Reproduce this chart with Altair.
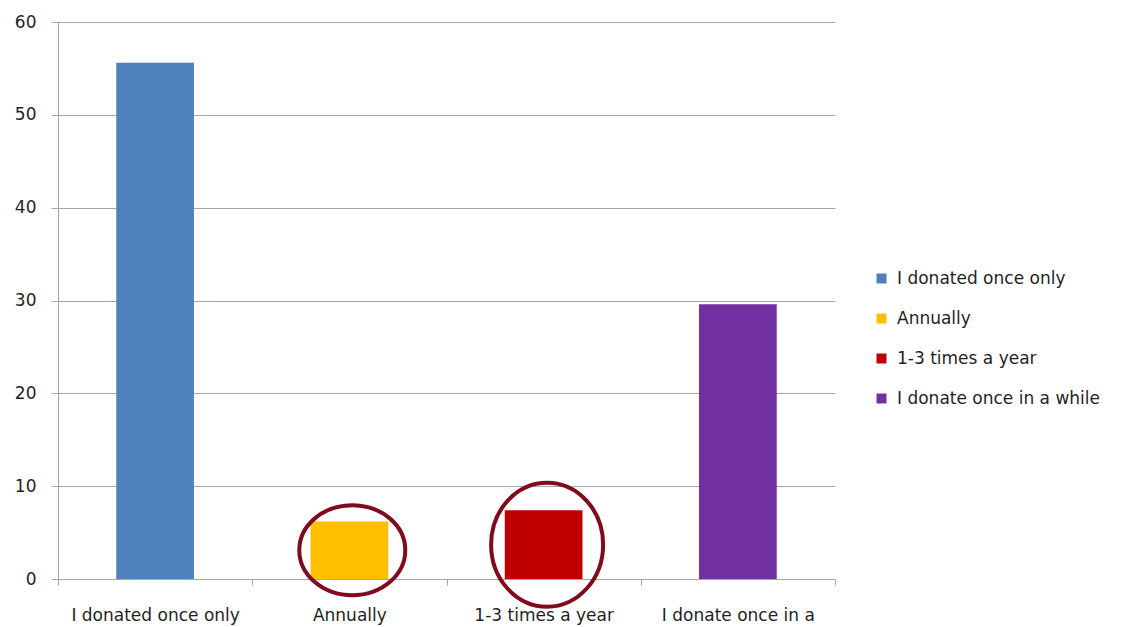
import altair as alt
import pandas as pd

categories = ["I donated once only", "Annually", "1-3 times a year", "I donate once in a while"]
values = [55.6, 6.2, 7.4, 29.6]
colors = ["#4F81BD", "#FFC000", "#C00000", "#7030A0"]
y_ticks = [0, 10, 20, 30, 40, 50, 60]
highlighted = ["Annually", "1-3 times a year"]

df = pd.DataFrame({"category": categories, "value": values})

FONT = "DejaVu Sans"
GRID = "#a6a6a6"
TEXT = "#1f1f1f"
RING = "#7f0b1c"


def ellipse_path(ry):
    c = 0.5523
    return (f"M 1 0 C 1 {c*ry:.4f} {c} {ry} 0 {ry} "
            f"C {-c} {ry} -1 {c*ry:.4f} -1 0 "
            f"C -1 {-c*ry:.4f} {-c} {-ry} 0 {-ry} "
            f"C {c} {-ry} 1 {-c*ry:.4f} 1 0 Z")


x_enc = alt.X(
    "category:N",
    sort=categories,
    scale=alt.Scale(domain=categories, paddingInner=0, paddingOuter=0),
    axis=alt.Axis(
        title=None, labelAngle=0, tickBand="extent", grid=False,
        domainColor=GRID, tickColor=GRID, tickSize=6, labelPadding=22,
        labelFont=FONT, labelFontSize=17, labelColor=TEXT, labelLimit=400,
        labelExpr="datum.label == 'I donate once in a while' ? 'I donate once in a' : datum.label",
    ),
)

y_enc = alt.Y(
    "value:Q",
    scale=alt.Scale(domain=[0, 60], nice=False),
    axis=alt.Axis(
        title=None, values=y_ticks, grid=True, gridColor=GRID,
        domainColor=GRID, tickColor=GRID, tickSize=7, labelPadding=15,
        labelFont=FONT, labelFontSize=17, labelColor=TEXT,
    ),
)

bars = alt.Chart(df).mark_bar(width=alt.RelativeBandSize(0.4)).encode(
    x=x_enc,
    y=y_enc,
    color=alt.Color(
        "category:N",
        sort=categories,
        scale=alt.Scale(domain=categories, range=colors),
        legend=alt.Legend(
            title=None, orient="none", legendX=815, legendY=248,
            symbolType="square", symbolSize=100, symbolStrokeWidth=0,
            labelFont=FONT, labelFontSize=17, labelColor=TEXT,
            labelOffset=7, rowPadding=22, labelLimit=400,
        ),
    ),
)

ring_base = alt.Chart(df).transform_calculate(mid="datum.value / 2")

ring1 = ring_base.transform_filter(
    alt.datum.category == highlighted[0]
).mark_point(
    shape=ellipse_path(0.85), size=11236, filled=False,
    stroke=RING, strokeWidth=4, opacity=1,
).encode(x=alt.X("category:N", sort=categories, bandPosition=0.515), y=alt.Y("mid:Q"))

ring2 = ring_base.transform_filter(
    alt.datum.category == highlighted[1]
).mark_point(
    shape=ellipse_path(1.107), size=12544, filled=False,
    stroke=RING, strokeWidth=4, opacity=1,
).encode(x=alt.X("category:N", sort=categories, bandPosition=0.518), y=alt.Y("mid:Q"))

chart = alt.layer(bars, ring1, ring2).properties(
    width=777,
    height=557,
    autosize=alt.AutoSizeParams(type="none"),
    padding={"left": 58, "top": 22, "right": 289, "bottom": 48},
    background="white",
).configure_view(strokeWidth=0)

chart.save("out.html", embed_options={"renderer": "svg", "actions": False})
